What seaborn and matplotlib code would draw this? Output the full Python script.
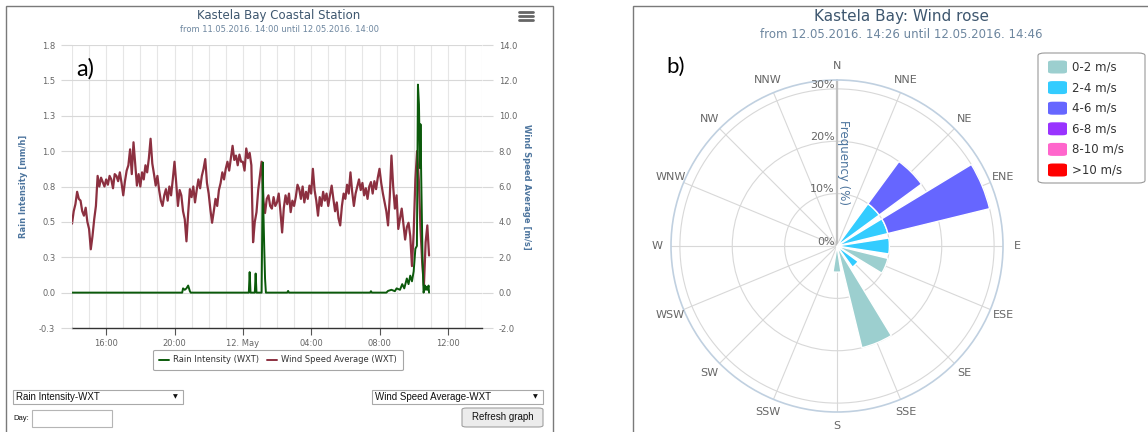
import numpy as np
import pandas as pd
import matplotlib
matplotlib.use("Agg")
import matplotlib.pyplot as plt
from matplotlib.patches import Rectangle, FancyBboxPatch
from matplotlib.lines import Line2D
import seaborn as sns

# ---------------- panel a) data: hours after 11.05.2016 14:00 ----------------
# wind speed average [m/s], one reading every 6 minutes
wind_speed = [
    3.9, 4.6, 5.0, 5.7, 5.3, 5.2, 4.6, 4.35, 4.8, 4.0,
    3.6, 2.45, 3.2, 4.15, 4.9, 6.6, 6.0, 6.5, 6.25, 6.0,
    6.4, 6.1, 6.6, 6.4, 5.9, 6.7, 6.6, 6.3, 6.8, 6.2,
    5.5, 6.3, 6.9, 7.2, 8.1, 6.7, 8.5, 7.3, 6.05, 6.7,
    6.0, 6.8, 6.4, 7.2, 6.8, 7.6, 8.7, 7.3, 6.7, 6.05,
    6.6, 5.8, 5.2, 4.9, 5.5, 5.85, 5.2, 6.0, 5.5, 6.4,
    7.4, 6.2, 4.9, 5.8, 5.5, 4.6, 4.15, 2.9, 4.5, 5.85,
    5.4, 6.0, 5.1, 5.8, 6.4, 5.9, 6.6, 7.0, 7.55, 6.2,
    5.6, 4.7, 3.95, 4.6, 5.3, 4.9, 5.8, 6.2, 6.8, 6.4,
    7.0, 7.4, 6.9, 7.6, 8.3, 7.5, 7.75, 7.2, 7.8, 7.4,
    7.4, 6.9, 8.15, 7.6, 7.9, 7.2, 2.85, 4.0, 4.55, 5.8,
    6.6, 7.4, 5.2, 4.5, 5.3, 5.5, 4.9, 4.75, 5.4, 4.9,
    5.1, 5.6, 4.6, 3.4, 4.8, 5.5, 5.0, 5.6, 4.55, 5.2,
    4.9, 5.4, 6.1, 5.85, 5.3, 6.0, 5.1, 5.7, 5.3, 6.05,
    5.6, 7.0, 5.8, 5.2, 4.35, 5.4, 4.9, 5.7, 5.2, 5.6,
    4.9, 5.5, 6.05, 5.3, 4.6, 5.1, 4.2, 3.8, 4.9, 5.6,
    5.3, 6.1, 5.6, 6.8, 5.7, 4.9, 5.6, 6.0, 6.4, 5.8,
    6.2, 5.5, 5.9, 5.3, 6.0, 6.25, 5.6, 6.3, 5.85, 6.5,
    7.0, 6.2, 5.6, 5.1, 4.6, 3.8, 5.4, 7.75, 6.0, 4.75,
    5.5, 3.6, 4.2, 4.75, 3.9, 3.0, 3.7, 3.95, 3.2, 1.5,
    3.4, 6.4, 8.0, 6.4, 3.6, 1.7, 0.4, 2.85, 3.8, 2.1,
]
wind_hours = np.arange(len(wind_speed)) * 0.1

# rain intensity [mm/h]
rain_hours = [0.0, 6.45, 6.5, 6.6, 6.7, 6.8, 6.9, 6.95,
              10.35, 10.4, 10.45, 10.7, 10.75, 10.8,
              11.1, 11.17, 11.2, 11.25, 11.3, 11.35,
              12.6, 12.65, 12.7, 17.45, 17.5, 17.55,
              18.4, 18.5, 18.7, 18.9, 19.0, 19.2, 19.33, 19.45, 19.6, 19.7,
              19.8, 19.9, 20.0, 20.1, 20.19, 20.25, 20.31, 20.37, 20.4,
              20.44, 20.52, 20.58, 20.67, 20.72, 20.77, 20.82, 20.87, 20.9]
rain_values = [0.0, 0.0, 0.03, 0.02, 0.03, 0.05, 0.01, 0.0,
               0.0, 0.145, 0.0, 0.0, 0.135, 0.0,
               0.0, 0.92, 0.6, 0.33, 0.1, 0.0,
               0.0, 0.012, 0.0, 0.0, 0.01, 0.0,
               0.0, 0.012, 0.02, 0.01, 0.03, 0.02, 0.06, 0.03, 0.1, 0.06,
               0.12, 0.08, 0.15, 0.31, 0.33, 1.47, 1.33, 0.88, 1.19,
               0.83, 0.24, 0.0, 0.05, 0.02, 0.04, 0.02, 0.05, 0.0]

x_tick_hours = [2, 6, 10, 14, 18, 22]
x_tick_labels = ["16:00", "20:00", "12. May", "04:00", "08:00", "12:00"]
rain_ticks = [-0.25, 0.0, 0.25, 0.5, 0.75, 1.0, 1.25, 1.5, 1.75]
rain_tick_labels = ["-0.3", "0.0", "0.3", "0.5", "0.8", "1.0", "1.3", "1.5", "1.8"]
wind_ticks = [-2, 0, 2, 4, 6, 8, 10, 12, 14]
wind_tick_labels = ["-2.0", "0.0", "2.0", "4.0", "6.0", "8.0", "10.0", "12.0", "14.0"]

# ---------------- panel b) data: wind rose frequencies [%] ----------------
directions = ["N", "NNE", "NE", "ENE", "E", "ESE", "SE", "SSE",
              "S", "SSW", "SW", "WSW", "W", "WNW", "NW", "NNW"]
speed_bins = ["0-2 m/s", "2-4 m/s", "4-6 m/s", "6-8 m/s", "8-10 m/s", ">10 m/s"]
freq_0_2 = [0, 0, 0, 0, 0, 10, 0, 20, 5, 0, 0, 0, 0, 0, 0, 0]
freq_2_4 = [0, 0, 10, 10, 10, 0, 5, 0, 0, 0, 0, 0, 0, 0, 0, 0]
freq_4_6 = [0, 0, 10, 20, 0, 0, 0, 0, 0, 0, 0, 0, 0, 0, 0, 0]
freq_6_8 = [0] * 16
freq_8_10 = [0] * 16
freq_over_10 = [0] * 16
bin_colors = ["#9ccfcf", "#33ccff", "#6666ff", "#9933ff", "#ff66cc", "#ff0000"]
rose_rings = [0, 10, 20, 30]
rose_ring_labels = ["0%", "10%", "20%", "30%"]

# ---------------- figure ----------------
sns.set_theme(style="white")
plt.rcParams["font.family"] = ["DejaVu Sans"]

W, H = 1148, 432
fig = plt.figure(figsize=(W / 100, H / 100), dpi=100)
fig.patch.set_facecolor("white")


def fx(x):
    return x / W


def fy(y):
    return 1 - y / H


def box(x0, y0, x1, y1, **kw):
    fig.add_artist(Rectangle((fx(x0), fy(y1)), fx(x1) - fx(x0), fy(y0) - fy(y1),
                             transform=fig.transFigure, **kw))


# panel frames
box(6, 6, 553, 440, fill=False, edgecolor="#7a7a7a", lw=1.0)
box(633, 6, 1160, 440, fill=False, edgecolor="#7a7a7a", lw=1.0)

title_col = "#3E576F"
sub_col = "#6D869F"
axis_title_col = "#4d759e"
label_col = "#666666"
grid_col = "#d8d8d8"

# ---- panel a ----
ax2 = fig.add_axes([fx(72), fy(328), 410 / W, 283 / H])
ax = ax2.twinx()
ax.set_zorder(ax2.get_zorder() + 1)
ax.patch.set_visible(False)

for h in range(0, 25):
    ax2.axvline(h, color="#e6e6e6", lw=0.8, zorder=0)
for t in wind_ticks[1:]:
    ax2.axhline(t, color=grid_col, lw=0.8, zorder=0)

sns.lineplot(x=wind_hours, y=wind_speed, ax=ax2, color="#8c3040", lw=1.6, zorder=2)
sns.lineplot(x=rain_hours, y=rain_values, ax=ax, color="#0b5a0b", lw=1.4, zorder=3)

ax2.set_xlim(0, 24)
ax2.set_ylim(-2, 14)
ax.set_ylim(-0.25, 1.75)

# wind axis -> right, rain axis -> left
ax2.yaxis.tick_right()
ax2.yaxis.set_label_position("right")
ax.yaxis.tick_left()
ax.yaxis.set_label_position("left")

ax2.set_yticks(wind_ticks)
ax2.set_yticklabels(wind_tick_labels)
ax.set_yticks(rain_ticks)
ax.set_yticklabels(rain_tick_labels)
ax2.set_xticks(x_tick_hours)
ax2.set_xticklabels(x_tick_labels)

for a in (ax, ax2):
    for s in a.spines.values():
        s.set_visible(False)
ax2.spines["bottom"].set_visible(True)
ax2.spines["bottom"].set_color("#333333")
ax2.spines["bottom"].set_linewidth(1.0)

ax2.tick_params(axis="x", direction="out", length=5, width=0.8, color="#555555",
                labelsize=6, labelcolor=label_col, pad=3, bottom=True)
ax2.tick_params(axis="y", direction="out", length=8, width=0.8, color=grid_col,
                labelsize=6, labelcolor=label_col, pad=4, right=True, left=False)
ax.tick_params(axis="y", direction="out", length=8, width=0.8, color=grid_col,
               labelsize=6, labelcolor=label_col, pad=4, left=True, right=False)

ax.set_ylabel("Rain Intensity [mm/h]", color=axis_title_col, fontsize=6, fontweight="bold")
ax.yaxis.set_label_coords((28 - 72) / 410, 0.5)
ax2.set_ylabel("Wind Speed Average [m/s]", color=axis_title_col, fontsize=6,
               fontweight="bold", rotation=270, va="center")
ax2.yaxis.set_label_coords((526 - 72) / 410, 0.5)
ax2.set_xlabel("")

fig.text(fx(279), fy(16), "Kastela Bay Coastal Station", ha="center", va="center",
         fontsize=8.5, color=title_col)
fig.text(fx(279), fy(29), "from 11.05.2016. 14:00 until 12.05.2016. 14:00",
         ha="center", va="center", fontsize=6, color=sub_col)
fig.text(fx(76), fy(69), "a)", ha="left", va="center", fontsize=17, color="black",
         family=["Lato", "DejaVu Sans"])

# menu icon
for yy in (12, 16, 20):
    fig.add_artist(Line2D([fx(519), fx(533)], [fy(yy), fy(yy)], color="#666666",
                          lw=2, transform=fig.transFigure))

handles = [Line2D([], [], color="#0b5a0b", lw=1.4), Line2D([], [], color="#8c3040", lw=1.4)]
leg = fig.legend(handles, ["Rain Intensity (WXT)", "Wind Speed Average (WXT)"],
                 loc="center", bbox_to_anchor=(fx(278), fy(360)), ncol=2, fontsize=6,
                 frameon=True, fancybox=True, edgecolor="#909090", handlelength=1.2,
                 columnspacing=1.0, handletextpad=0.5, borderpad=0.7)
leg.get_frame().set_linewidth(0.8)
for txt in leg.get_texts():
    txt.set_color("#333333")

# form widgets below the chart
widget_font = ["Liberation Sans", "DejaVu Sans"]
box(13, 390, 183, 404, facecolor="white", edgecolor="#a9a9a9", lw=0.8)
fig.text(fx(16), fy(397), "Rain Intensity-WXT", ha="left", va="center", fontsize=7,
         color="#111111", family=widget_font)
fig.text(fx(175), fy(397), "\u25bc", ha="center", va="center", fontsize=4.5, color="#111111")
box(372, 390, 543, 404, facecolor="white", edgecolor="#a9a9a9", lw=0.8)
fig.text(fx(375), fy(397), "Wind Speed Average-WXT", ha="left", va="center", fontsize=7,
         color="#111111", family=widget_font)
fig.text(fx(535), fy(397), "\u25bc", ha="center", va="center", fontsize=4.5, color="#111111")
fig.text(fx(13), fy(418), "Day:", ha="left", va="center", fontsize=5.5,
         color="#111111", family=widget_font)
box(32, 410, 112, 427, facecolor="white", edgecolor="#b5b5b5", lw=0.8)
fig.add_artist(FancyBboxPatch((fx(462), fy(427)), fx(543) - fx(462), fy(408) - fy(427),
                              boxstyle="round,pad=0,rounding_size=0.004",
                              transform=fig.transFigure, facecolor="#ececec",
                              edgecolor="#a0a0a0", lw=0.8))
fig.text(fx(502.5), fy(417.5), "Refresh graph", ha="center", va="center", fontsize=7,
         color="#111111", family=widget_font)

# ---- panel b: wind rose ----
cx, cy, rad = 837, 246, 166
axr = fig.add_axes([fx(cx - rad), fy(cy + rad), 2 * rad / W, 2 * rad / H], projection="polar")
axr.set_theta_zero_location("N")
axr.set_theta_direction(-1)
rmax = 31.7
axr.set_ylim(0, rmax)

theta = np.radians(np.arange(len(directions)) * 22.5)
width = np.radians(17.5)
series = [freq_0_2, freq_2_4, freq_4_6, freq_6_8, freq_8_10, freq_over_10]
bottom = np.zeros(len(directions))
for vals, col in zip(series, bin_colors):
    vals = np.asarray(vals, dtype=float)
    m = vals > 0
    if m.any():
        axr.bar(theta[m], vals[m], width=width, bottom=bottom[m], color=col,
                edgecolor="white", lw=1.0, zorder=3)
    bottom += vals

axr.set_xticks(theta)
axr.set_xticklabels([])
axr.set_yticks(rose_rings[1:])
axr.set_yticklabels([])
axr.grid(color=grid_col, lw=0.8)
axr.spines["polar"].set_color("#c0d0e0")
axr.spines["polar"].set_linewidth(1.2)
axr.plot([0, 0], [0, rmax], color="#c0c0c0", lw=1.6, zorder=2)

for r, lab in zip(rose_rings, rose_ring_labels):
    axr.annotate(lab, xy=(0, r), xytext=(-1.5, 3), textcoords="offset points",
                 ha="right", va="center", fontsize=8, color=label_col, zorder=4)

for th, lab in zip(theta, directions):
    axr.text(th, 34.4, lab, ha="center", va="center", fontsize=8, color=label_col,
             clip_on=False)

axr.text(np.radians(0), 16, "Frequency (%)", rotation=270, ha="left", va="center",
         fontsize=8.5, color=axis_title_col, transform=axr.transData)

fig.text(fx(901), fy(17), "Kastela Bay: Wind rose", ha="center", va="center",
         fontsize=11, color=title_col)
fig.text(fx(901), fy(35), "from 12.05.2016. 14:26 until 12.05.2016. 14:46",
         ha="center", va="center", fontsize=8.5, color=sub_col)
fig.text(fx(666), fy(67), "b)", ha="left", va="center", fontsize=16, color="black",
         family=["Lato", "DejaVu Sans"])

# rose legend
fig.add_artist(FancyBboxPatch((fx(1038), fy(183)), fx(1145) - fx(1038), fy(53) - fy(183),
                              boxstyle="round,pad=0,rounding_size=0.006",
                              transform=fig.transFigure, facecolor="white",
                              edgecolor="#999999", lw=0.8))
for i, (lab, col) in enumerate(zip(speed_bins, bin_colors)):
    yy = 67 + i * 20.6
    fig.add_artist(FancyBboxPatch((fx(1048), fy(yy + 6.5)), fx(1067) - fx(1048), 13 / H,
                                  boxstyle="round,pad=0,rounding_size=0.004",
                                  transform=fig.transFigure, facecolor=col,
                                  edgecolor="none"))
    fig.text(fx(1072), fy(yy), lab, ha="left", va="center", fontsize=8.5, color="#333333")

fig.savefig("out.png", dpi=100, facecolor="white")
